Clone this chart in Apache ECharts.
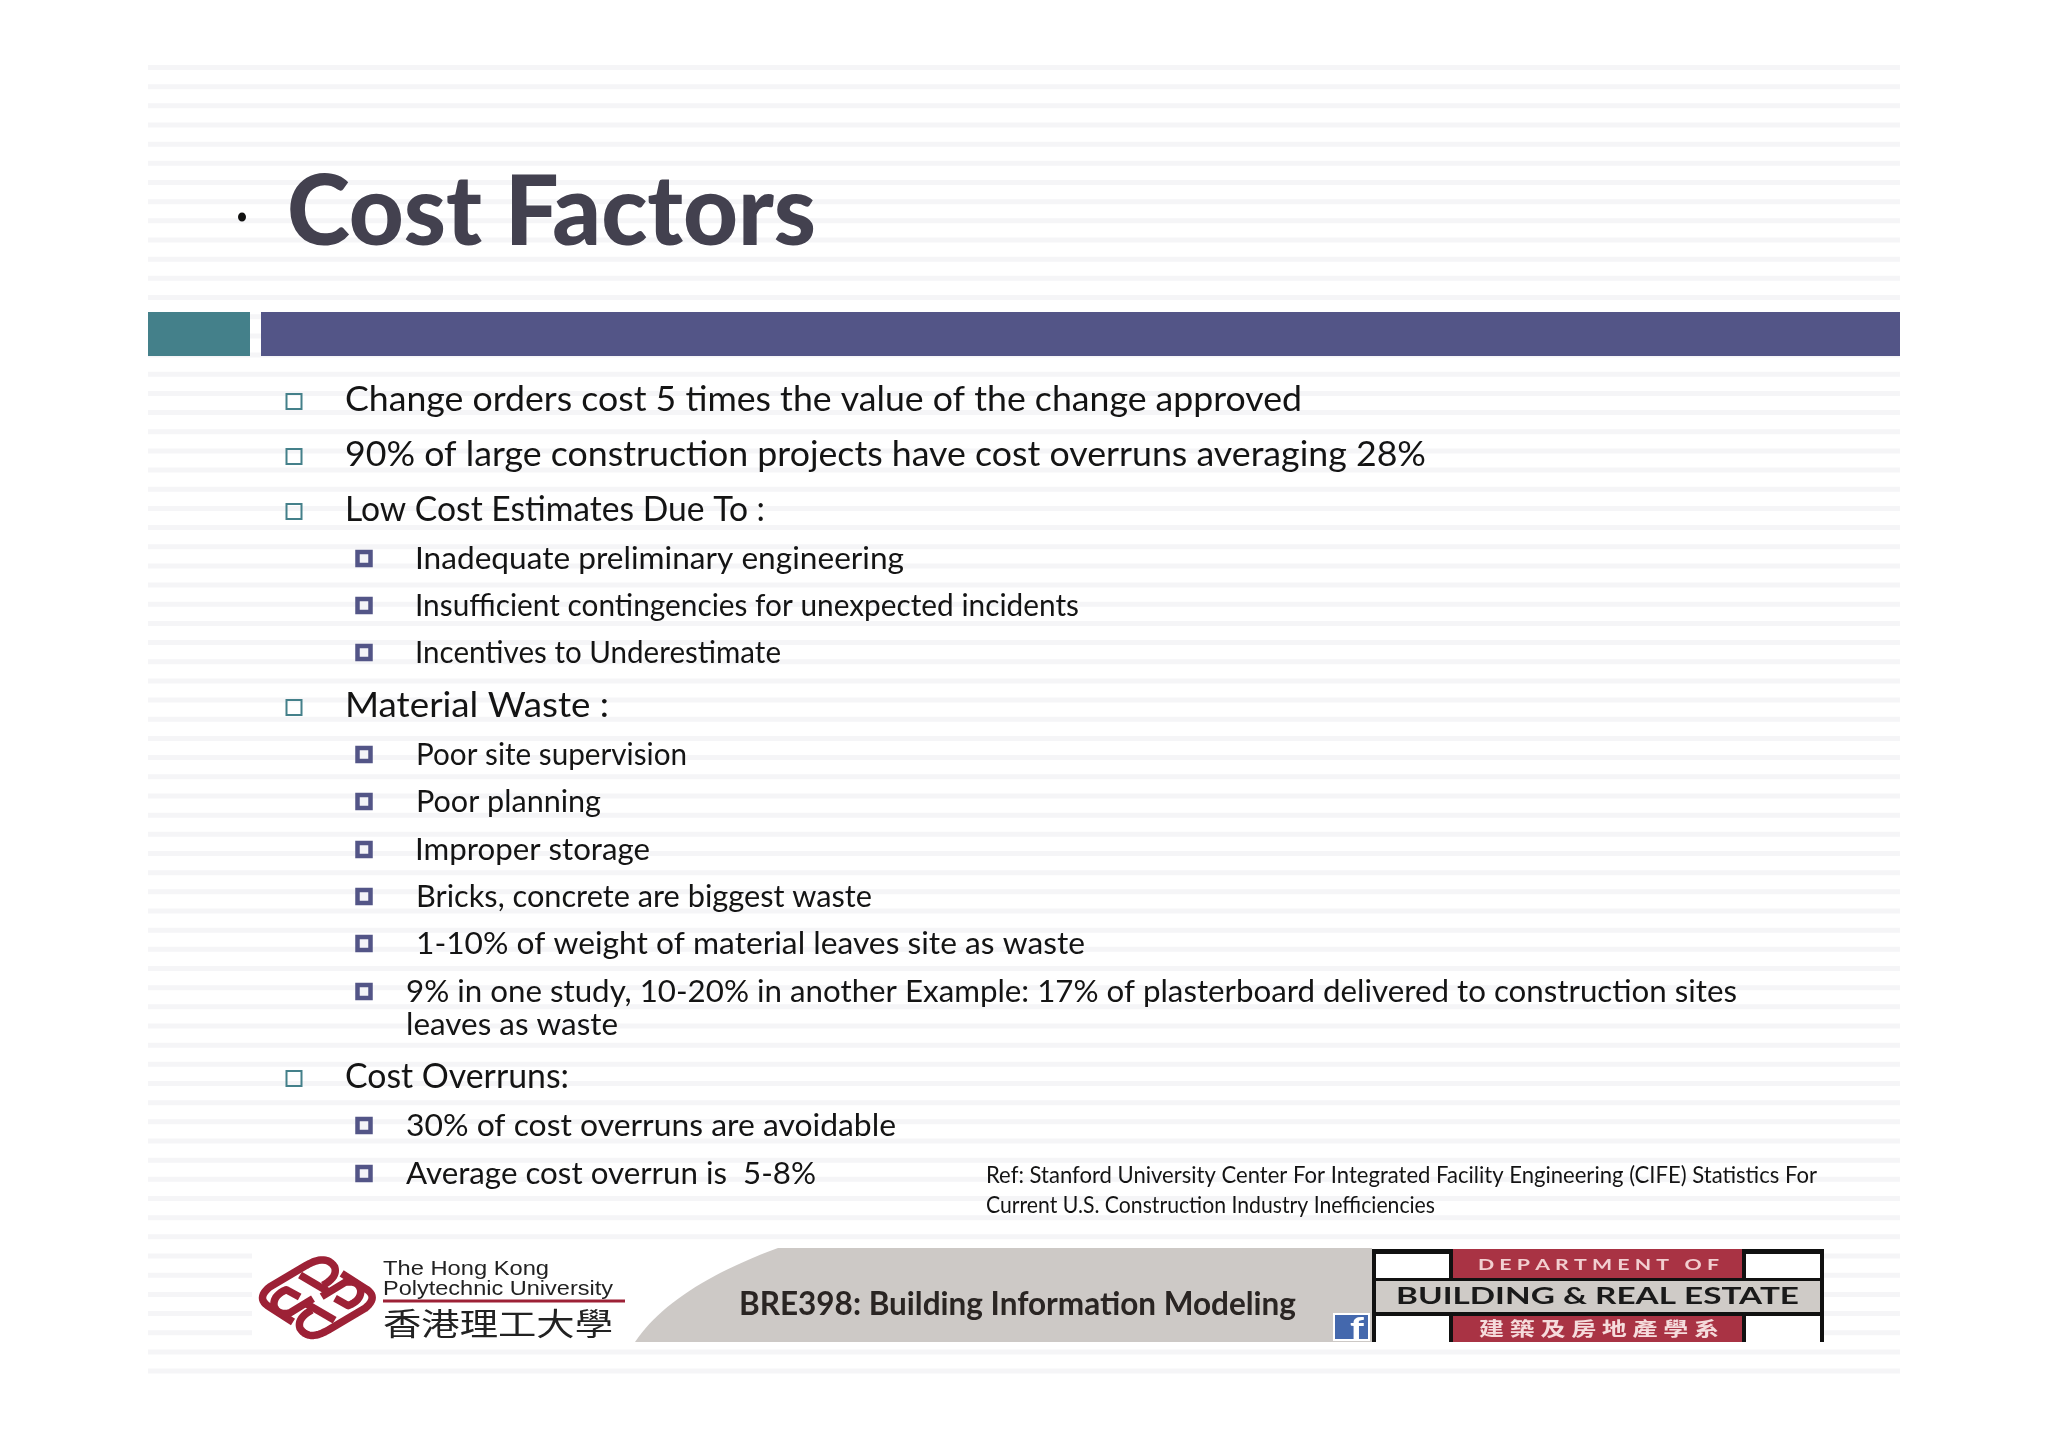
<!DOCTYPE html>
<html>
<head>
<meta charset="utf-8">
<title>Cost Factors</title>
<style>
  html, body { margin: 0; padding: 0; background: #fff; }
  #main { width: 2048px; height: 1447px; }
</style>
<script src="https://cdn.jsdelivr.net/npm/echarts@6/dist/echarts.min.js"></script>
</head>
<body>
<div id="main"></div>
<script>
  const titleText = 'Cost Factors'
  const bulletLines = [
    'Change orders cost 5 times the value of the change approved',
    '90% of large construction projects have cost overruns averaging 28%',
    'Low Cost Estimates Due To :',
    'Inadequate preliminary engineering',
    'Insufficient contingencies for unexpected incidents',
    'Incentives to Underestimate',
    'Material Waste :',
    'Poor site supervision',
    'Poor planning',
    'Improper storage',
    'Bricks, concrete are biggest waste',
    '1-10% of weight of material leaves site as waste',
    '9% in one study, 10-20% in another Example: 17% of plasterboard delivered to construction sites',
    'leaves as waste',
    'Cost Overruns:',
    '30% of cost overruns are avoidable',
    'Average cost overrun is  5-8%'
  ]
  const bulletLevels = [1, 1, 1, 2, 2, 2, 1, 2, 2, 2, 2, 2, 2, 0, 1, 2, 2]
  const refLines = [
    'Ref: Stanford University Center For Integrated Facility Engineering (CIFE) Statistics For',
    'Current U.S. Construction Industry Inefficiencies'
  ]
  const courseText = 'BRE398: Building Information Modeling'
  const uniLines = ['The Hong Kong', 'Polytechnic University', '香港理工大學']
  const deptLines = ['D E P A R T M E N T   O F', 'BUILDING & REAL ESTATE', '建 築 及 房 地 產 學 系']

  // where each line sits on the page
  const lineLeft = [345, 345, 345, 415, 415, 415, 345, 416, 416, 415, 416, 416, 406, 406, 345, 406, 406]
  const lineRight = [1302, 1426, 765, 904, 1079, 781, 609, 687, 601, 650, 872, 1085, 1737, 618, 569, 896, 816]
  const lineY = [400, 455, 510, 559, 606, 653, 706, 755, 802, 850, 897, 944, 992, 1025, 1077, 1126, 1174]

  const BODY_FONT = 'Lato, "Noto Sans", sans-serif'
  const TEAL = '#44808a'
  const BLUE = '#535587'
  const RED = '#a93344'
  const LOGO_RED = '#9d2136'
  const measure = document.createElement('canvas').getContext('2d')

  // text stretched to run from left to right, the way the slide's font does
  const fitText = (text, left, right, y, size, opts = {}) => {
    const weight = opts.weight || 'normal'
    const family = opts.family || BODY_FONT
    measure.font = `${weight} ${size}px ${family}`
    const w = measure.measureText(text).width
    return {
      type: 'text', x: left, y: y, scaleX: (right - left) / w, z: opts.z || 5,
      style: {
        text: text, fontSize: size, fontWeight: weight, fontFamily: family,
        fill: opts.fill || '#141414', textAlign: 'left', verticalAlign: 'middle', textVerticalAlign: 'middle'
      }
    }
  }

  const box = (x0, y0, x1, y1, fill, z = 3) => ({
    type: 'rect', z: z, shape: { x: x0, y: y0, width: x1 - x0, height: y1 - y0 }, style: { fill: fill }
  })

  // graphic has no path type, so curves are sampled into points
  const curve = (p0, c, p1, n = 12) => {
    const pts = []
    for (let i = 0; i <= n; i++) {
      const t = i / n
      pts.push([
        (1 - t) * (1 - t) * p0[0] + 2 * t * (1 - t) * c[0] + t * t * p1[0],
        (1 - t) * (1 - t) * p0[1] + 2 * t * (1 - t) * c[1] + t * t * p1[1]
      ])
    }
    return pts
  }

  const elements = []

  // background stripes
  for (let i = 0; i <= 68; i++) {
    elements.push(box(148, 65 + i * 19.17, 1900, 70 + i * 19.17, '#f5f5f7', 1))
  }

  // title + header band
  elements.push({ type: 'ellipse', z: 5, shape: { cx: 242, cy: 217, rx: 4, ry: 4.5 }, style: { fill: '#111' } })
  elements.push(fitText(titleText, 287, 816, 214, 97, { weight: 900, fill: '#43414f' }))
  elements.push(box(148, 312, 250, 356, TEAL))
  elements.push(box(261, 312, 1900, 356, BLUE))

  // bullets
  bulletLines.forEach((line, i) => {
    const level = bulletLevels[i]
    const size = level === 1 ? 34 : 30
    elements.push(fitText(line, lineLeft[i], lineRight[i], lineY[i], size))
    if (level === 1) {
      elements.push({
        type: 'rect', z: 5, shape: { x: 286.5, y: lineY[i] - 6, width: 15, height: 15 },
        style: { fill: 'none', stroke: TEAL, lineWidth: 2 }
      })
    } else if (level === 2) {
      elements.push({
        type: 'rect', z: 5, shape: { x: 357.5, y: lineY[i] - 7, width: 13, height: 13 },
        style: { fill: '#f4f4f8', stroke: BLUE, lineWidth: 4.5 }
      })
    }
  })

  // reference note
  elements.push(fitText(refLines[0], 986, 1817, 1176, 23))
  elements.push(fitText(refLines[1], 986, 1435, 1206, 23))

  // footer
  elements.push(box(252, 1240, 1824, 1345, '#ffffff', 2))
  elements.push({
    type: 'polygon', z: 3,
    shape: { points: curve([635, 1342], [672, 1287], [778, 1248], 24).concat([[1372, 1248], [1372, 1342]]) },
    style: { fill: '#cdc9c6' }
  })
  elements.push(fitText(courseText, 739, 1296, 1305, 32, { weight: 'bold', fill: '#2a2523' }))

  // PolyU knot: the logo reads the same turned half a turn, so only one half is listed
  const knotX = x => 250 + x / 3
  const knotY = y => 1245 + y / 3
  const k = (x, y) => [knotX(x), knotY(y)]
  const knotHalves = [
    [[k(275, 85)], curve(k(345, 130), k(388, 155), k(345, 190)), curve(k(235, 255), k(175, 290), k(150, 250)), curve(k(150, 250), k(140, 220), k(185, 195))],
    [[k(215, 155)], curve(k(285, 112), k(325, 105), k(332, 135)), curve(k(332, 135), k(335, 165), k(295, 182)), [k(255, 160)]],
    [[k(150, 90), k(235, 140)]]
  ]
  ;[0, Math.PI].forEach(rot => {
    knotHalves.forEach(parts => {
      elements.push({
        type: 'polyline', z: 4, rotation: rot, originX: knotX(202), originY: knotY(158),
        shape: { points: parts.flat() },
        style: { fill: 'none', stroke: LOGO_RED, lineWidth: 7.5, lineCap: 'butt', lineJoin: 'round' }
      })
    })
  })
  const arial = 'Liberation Sans, Arial, sans-serif'
  elements.push(fitText(uniLines[0], 383, 549, 1269, 21, { family: arial, fill: '#222' }))
  elements.push(fitText(uniLines[1], 383, 613, 1289, 21, { family: arial, fill: '#222' }))
  elements.push(box(383, 1299.5, 625, 1302.5, LOGO_RED, 4))
  elements.push(fitText(uniLines[2], 383, 613, 1323, 31, { family: '"Noto Sans CJK TC", sans-serif', fill: '#222' }))

  // facebook badge
  elements.push(box(1333, 1313, 1370, 1341, '#ffffff', 4))
  elements.push(box(1335, 1315, 1368, 1339, '#4468ad', 5))
  elements.push(fitText('f', 1350, 1364, 1329, 31, { weight: 900, fill: '#ffffff', z: 6 }))

  // department plate
  elements.push(box(1372, 1249, 1824, 1342, '#111111', 4))
  elements.push(box(1376, 1254, 1449, 1278, '#ffffff', 5))
  elements.push(box(1746, 1254, 1820, 1278, '#ffffff', 5))
  elements.push(box(1453, 1249, 1742, 1278, RED, 5))
  elements.push(box(1376, 1281, 1820, 1312, '#cfcbc7', 5))
  elements.push(box(1376, 1316, 1449, 1342, '#ffffff', 5))
  elements.push(box(1746, 1316, 1820, 1342, '#ffffff', 5))
  elements.push(box(1453, 1316, 1742, 1342, RED, 5))
  elements.push(fitText(deptLines[0], 1478, 1719, 1265, 15, { weight: 'bold', fill: '#f2cfd0', z: 6 }))
  elements.push(fitText(deptLines[1], 1396, 1799, 1297, 23, { weight: 'bold', fill: '#1a1a1a', z: 6 }))
  elements.push(fitText(deptLines[2], 1479, 1719, 1329, 19, { family: '"Noto Sans CJK TC", sans-serif', weight: 'bold', fill: '#f5dcdc', z: 6 }))

  const chart = echarts.init(document.getElementById('main'))
  chart.setOption({
    backgroundColor: '#ffffff',
    animation: false,
    graphic: { elements: elements }
  })
</script>
</body>
</html>
